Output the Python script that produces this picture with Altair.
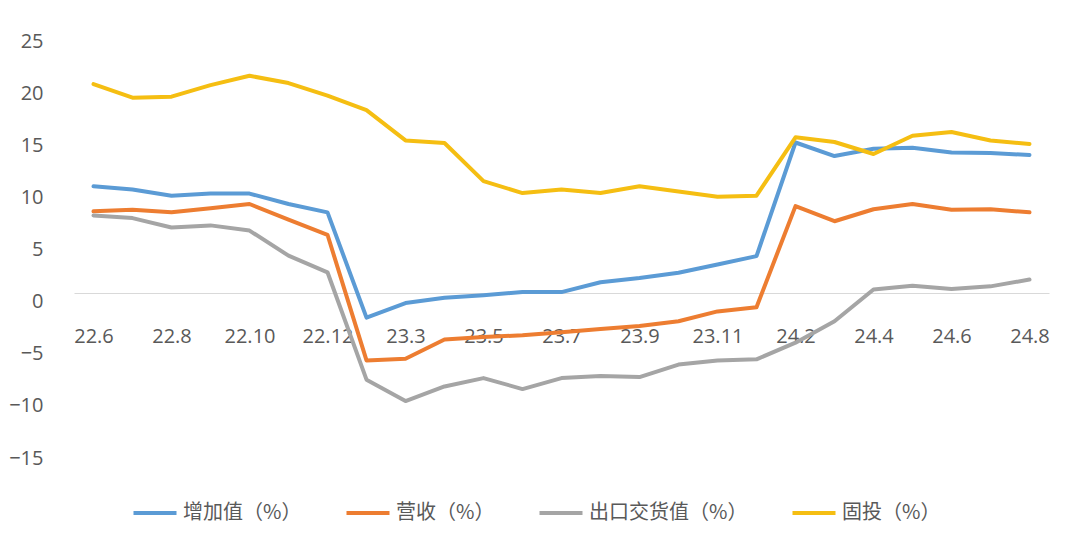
import altair as alt
import pandas as pd

months = ["22.6", "22.7", "22.8", "22.9", "22.10", "22.11", "22.12",
          "23.2", "23.3", "23.4", "23.5", "23.6", "23.7", "23.8", "23.9",
          "23.10", "23.11", "23.12",
          "24.2", "24.3", "24.4", "24.5", "24.6", "24.7", "24.8"]

series_names = ["增加值（%）", "营收（%）", "出口交货值（%）", "固投（%）"]
series_colors = ["#5B9BD5", "#ED7D31", "#A5A5A5", "#F5BE12"]

added_value = [10.2, 9.9, 9.3, 9.5, 9.5, 8.5, 7.7, -2.4, -1.0, -0.5, -0.25, 0.05,
               0.05, 1.0, 1.4, 1.9, 2.7, 3.5, 14.4, 13.1, 13.8, 13.9, 13.45, 13.4, 13.2]
revenue = [7.8, 7.95, 7.7, 8.1, 8.5, 7.0, 5.55, -6.5, -6.35, -4.5, -4.25, -4.1,
           -3.8, -3.5, -3.2, -2.75, -1.8, -1.4, 8.3, 6.85, 8.0, 8.5, 7.95, 8.0, 7.7]
export_value = [7.4, 7.15, 6.25, 6.45, 5.95, 3.55, 1.95, -8.35, -10.4, -9.0, -8.2, -9.25,
                -8.2, -8.0, -8.1, -6.9, -6.5, -6.4, -4.8, -2.75, 0.3, 0.65, 0.35, 0.6, 1.25]
fixed_invest = [20.0, 18.7, 18.8, 19.9, 20.8, 20.1, 18.9, 17.5, 14.6, 14.35, 10.7, 9.55,
                9.9, 9.55, 10.2, 9.7, 9.2, 9.3, 14.9, 14.45, 13.3, 15.05, 15.4, 14.6, 14.25]

y_ticks = [-15, -10, -5, 0, 5, 10, 15, 20, 25]
x_label_values = months[::2]

rows = []
for name, vals in zip(series_names, [added_value, revenue, export_value, fixed_invest]):
    for i, (m, v) in enumerate(zip(months, vals)):
        rows.append({"month": m, "series": name, "value": v, "order": series_names.index(name)})
df = pd.DataFrame(rows)

chart = alt.Chart(df).mark_line(strokeWidth=4, strokeJoin="round", strokeCap="round").encode(
    x=alt.X("month:O", sort=months, title=None,
            axis=alt.Axis(values=x_label_values, labelAngle=0, ticks=False, tickSize=0,
                          domainColor="#D9D9D9", domainWidth=1.2, offset=-156,
                          labelPadding=33, labelFontSize=20, labelColor="#595959",
                          labelFont="Open Sans", grid=False)),
    y=alt.Y("value:Q", title=None,
            scale=alt.Scale(domain=[-15, 25], nice=False, zero=False),
            axis=alt.Axis(values=y_ticks, ticks=False, tickSize=0, domain=False, grid=False,
                          labelPadding=31, labelFontSize=20, labelColor="#595959",
                          labelFont="Open Sans", labelOffset=9)),
    color=alt.Color("series:N", sort=series_names,
                    scale=alt.Scale(domain=series_names, range=series_colors),
                    legend=alt.Legend(title=None, orient="none", direction="horizontal",
                                      legendX=57, legendY=457, symbolType="stroke",
                                      symbolSize=1850, symbolStrokeWidth=4,
                                      labelFontSize=20, labelColor="#595959",
                                      labelFont="Noto Sans CJK SC", labelOffset=4,
                                      columnPadding=36, padding=0)),
    order=alt.Order("order:Q"),
).properties(
    width=975, height=417,
    padding={"left": 0, "top": 23, "right": 10, "bottom": 5},
).configure_view(stroke=None)

chart.save("out.html", embed_options={"renderer": "svg", "actions": False})
